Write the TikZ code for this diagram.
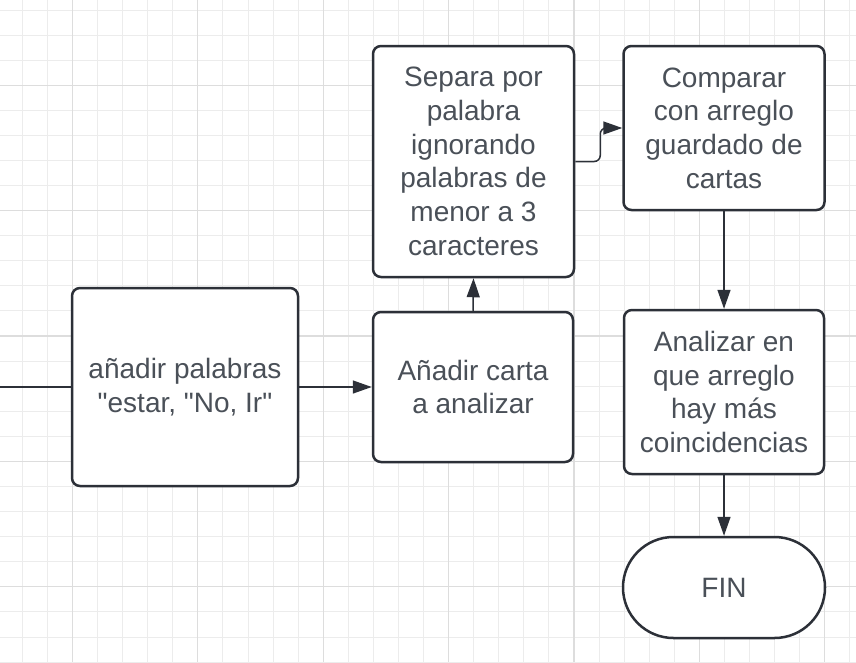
\documentclass[tikz,border=0pt]{standalone}
\usepackage{fontspec}
\setmainfont{Liberation Sans}[Ligatures=TeXOff]
\usetikzlibrary{arrows.meta,shapes.misc}
\definecolor{gridminor}{RGB}{236,236,236}
\definecolor{gridmajor}{RGB}{221,221,221}
\definecolor{stroke}{RGB}{44,48,56}
\definecolor{txt}{RGB}{74,80,88}
\tikzset{
  box/.style={draw=stroke, line width=2.5pt, fill=white, rounded corners=8pt,
    align=center, text=txt, font=\fontsize{28}{33.7}\selectfont, inner sep=0pt},
  term/.style={draw=stroke, line width=2.5pt, fill=white, rounded rectangle,
    rounded rectangle arc length=180, align=center, text=txt,
    font=\fontsize{28}{33.7}\selectfont, inner sep=0pt},
  conn/.style={draw=stroke, line width=1.5pt, -{Triangle[length=19pt,width=13pt]}},
  plainconn/.style={draw=stroke, line width=1.5pt},
  gmin/.style={draw=gridminor, line width=1pt},
  gmaj/.style={draw=gridmajor, line width=1.2pt}
}
\begin{document}
\begin{tikzpicture}[x=1pt,y=-1pt]
\useasboundingbox (0,0) rectangle (856,662);
\fill[white] (0,0) rectangle (856,662);
\begin{scope}
\clip (0,0) rectangle (856,662);
\foreach \k in {0,...,34} \draw[gmin] ({22.3+25.08*\k},0) -- ++(0,662);
\foreach \k in {0,...,26} \draw[gmin] (0,{10+25.08*\k}) -- ++(856,0);
\foreach \k in {0,...,6} \draw[gmaj] ({72.3+125.4*\k},0) -- ++(0,662);
\foreach \k in {0,...,4} \draw[gmaj] (0,{85.2+125.4*\k}) -- ++(856,0);
\end{scope}

\node[box, minimum width=226pt, minimum height=198pt] (A) at (185,387)
  {añadir palabras\\"estar, "No, Ir"};
\node[box, minimum width=200pt, minimum height=150pt] (B) at (473,387)
  {Añadir carta\\a analizar};
\node[box, minimum width=201pt, minimum height=231pt] (C) at (473.5,161.5)
  {Separa por\\palabra\\ignorando\\palabras de\\menor a 3\\caracteres};
\node[box, minimum width=201pt, minimum height=164pt] (D) at (724,128)
  {Comparar\\con arreglo\\guardado de\\cartas};
\node[box, minimum width=200pt, minimum height=164pt] (E) at (724,392)
  {Analizar en\\que arreglo\\hay más\\coincidencias};
\node[term, minimum width=202pt, minimum height=101pt] (F) at (724,587.5) {FIN};

\coordinate (in) at (0,387);
\draw[plainconn] (in) -- (A.west);
\draw[conn] (A.east) -- (B.west);
\draw[conn] (B.north) -- (C.south);
\draw[conn, rounded corners=6pt] (C.east) -- ++(25,0) |- (D.west);
\draw[conn] (D.south) -- (E.north);
\draw[conn] (E.south) -- (F.north);
\end{tikzpicture}
\end{document}
